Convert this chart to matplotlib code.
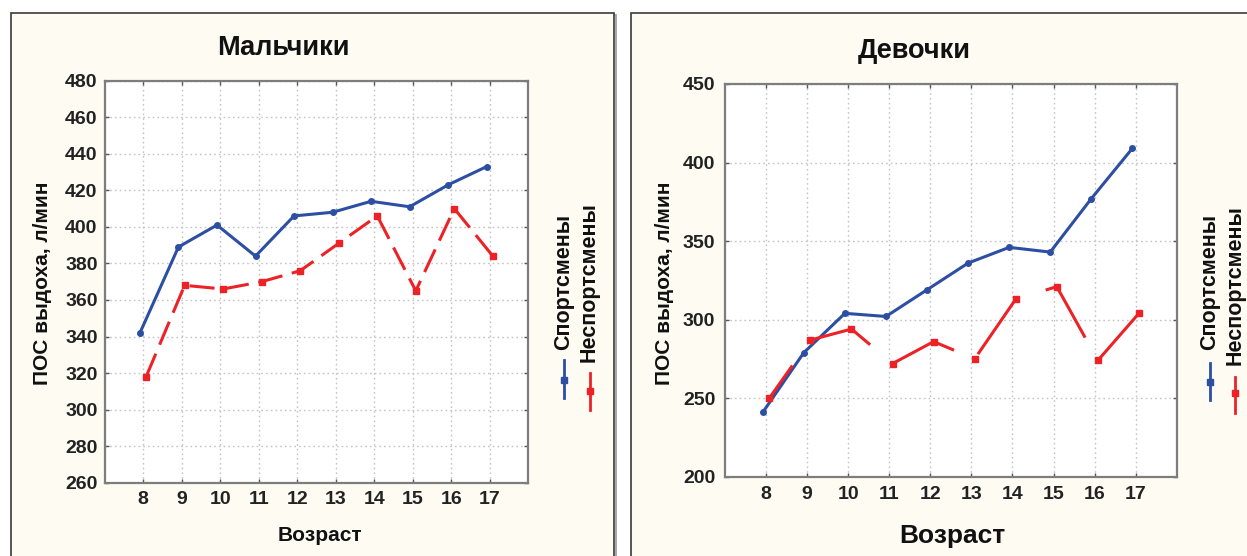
"""Peak expiratory flow by age: athletes vs non-athletes, boys and girls."""

import matplotlib.pyplot as plt
from matplotlib.lines import Line2D
from matplotlib.patches import Rectangle

plt.rcParams["font.family"] = ["Liberation Sans", "DejaVu Sans"]
plt.rcParams["lines.scale_dashes"] = False

AGES = [8, 9, 10, 11, 12, 13, 14, 15, 16, 17]
BOYS_ATHLETES = [342, 389, 401, 384, 406, 408, 414, 411, 423, 433]
BOYS_NON_ATHLETES = [318, 368, 366, 370, 376, 391, 406, 365, 410, 384]
GIRLS_ATHLETES = [241, 279, 304, 302, 319, 336, 346, 343, 377, 409]
GIRLS_NON_ATHLETES = [250, 287, 294, 272, 286, 275, 313, 321, 274, 304]

BOYS_YTICKS = [260, 280, 300, 320, 340, 360, 380, 400, 420, 440, 460, 480]
GIRLS_YTICKS = [200, 250, 300, 350, 400, 450]
SERIES_NAMES = ["Спортсмены", "Неспортсмены"]

BLUE = "#2d4fa3"
RED = "#ec2227"
PANEL_BG = "#fefbf3"
W, H = 1247, 556


def fx(px):
    return px / W


def fy(py):
    return 1 - py / H


def draw_panel(fig, x0, x1):
    fig.add_artist(Rectangle((fx(x0 + 2), fy(H + 10)), fx(x1 - x0), fy(14.5) - fy(H + 10),
                             transform=fig.transFigure, facecolor="none",
                             edgecolor="#a8a8a8", linewidth=1.4, zorder=0))
    fig.add_artist(Rectangle((fx(x0), fy(H + 10)), fx(x1 - x0), fy(12.7) - fy(H + 10),
                             transform=fig.transFigure, facecolor=PANEL_BG,
                             edgecolor="#3a3a3a", linewidth=1.2, zorder=0))


def style_axes(ax, yticks, ylim, xpad, ypad):
    ax.set_facecolor("white")
    ax.set_xlim(7, 18)
    ax.set_ylim(*ylim)
    ax.set_xticks(AGES)
    ax.set_yticks(yticks)
    ax.grid(True, color="#c4c4c4", linewidth=1.0, linestyle=(0, (1.2, 2.2)))
    ax.set_axisbelow(True)
    ax.tick_params(direction="in", length=3, width=1, color="#555555",
                   top=True, right=True, labelsize=14)
    ax.tick_params(axis="x", pad=xpad)
    ax.tick_params(axis="y", pad=ypad)
    for lab in ax.get_xticklabels() + ax.get_yticklabels():
        lab.set_fontweight("bold")
        lab.set_color("#222222")
    for spine in ax.spines.values():
        spine.set_color("#7d7d7d")
        spine.set_linewidth(1.6)


def plot_series(ax, athletes, non_athletes, red_dashes, red_offset=0.0):
    shift = 0.08
    ax.plot([a - shift for a in AGES], athletes, color=BLUE, linewidth=2.2,
            marker="o", markersize=4, zorder=3)
    ax.plot([a + shift for a in AGES], non_athletes, color=RED, linewidth=2.2,
            linestyle=(red_offset, red_dashes), marker="s", markersize=4.5, zorder=4)


def draw_legend(fig, xs, text_y, handle_tops, handle_bottoms, marker_ys, size):
    colors = [BLUE, RED]
    for name, x, ty, top, bot, my, c in zip(SERIES_NAMES, xs, text_y, handle_tops,
                                            handle_bottoms, marker_ys, colors):
        fig.text(fx(x), fy(ty), name, rotation=90, ha="center", va="center",
                 fontsize=size, fontweight="bold", color="#111111")
        fig.add_artist(Line2D([fx(x), fx(x)], [fy(top), fy(bot)], color=c,
                              linewidth=2.0, transform=fig.transFigure))
        fig.add_artist(Line2D([fx(x)], [fy(my)], color=c, marker="s", markersize=4,
                              transform=fig.transFigure))


fig = plt.figure(figsize=(12.47, 5.56), dpi=100, facecolor="white")

draw_panel(fig, 10.7, 614)
draw_panel(fig, 630.7, W + 20)

# boys
ax_b = fig.add_axes([fx(104.5), fy(482.7), fx(528.3 - 104.5), fy(80.7) - fy(482.7)])
style_axes(ax_b, BOYS_YTICKS, (260, 480), xpad=6, ypad=5)
plot_series(ax_b, BOYS_ATHLETES, BOYS_NON_ATHLETES, (18, 7))
fig.text(fx(283), fy(55), "Мальчики", ha="center", va="baseline",
         fontsize=19.5, fontweight="bold", color="#111111")
fig.text(fx(320), fy(541), "Возраст", ha="center", va="baseline",
         fontsize=15, fontweight="bold", color="#111111")
fig.text(fx(42.7), fy(283.7), "ПОС выдоха, л/мин", rotation=90, ha="center",
         va="center", fontsize=15, fontweight="bold", color="#111111")
draw_legend(fig, [563.5, 589.5], [281.5, 282.5], [360, 373], [398, 410],
            [380, 391], 15.5)

# girls
ax_g = fig.add_axes([fx(725), fy(476.7), fx(1176.7 - 725), fy(84) - fy(476.7)])
style_axes(ax_g, GIRLS_YTICKS, (200, 450), xpad=6.5, ypad=7)
plot_series(ax_g, GIRLS_ATHLETES, GIRLS_NON_ATHLETES, (50.4, 20.2), red_offset=21.6)
fig.text(fx(914), fy(57.5), "Девочки", ha="center", va="baseline",
         fontsize=19.5, fontweight="bold", color="#111111")
fig.text(fx(952.5), fy(543.5), "Возраст", ha="center", va="baseline",
         fontsize=19, fontweight="bold", color="#111111")
fig.text(fx(664), fy(283), "ПОС выдоха, л/мин", rotation=90, ha="center",
         va="center", fontsize=15, fontweight="bold", color="#111111")
draw_legend(fig, [1210, 1235], [281.7, 285.5], [362.7, 376.7], [400, 413.3],
            [382, 393], 15.5)

fig.savefig("out.png", dpi=100, facecolor=fig.get_facecolor())
